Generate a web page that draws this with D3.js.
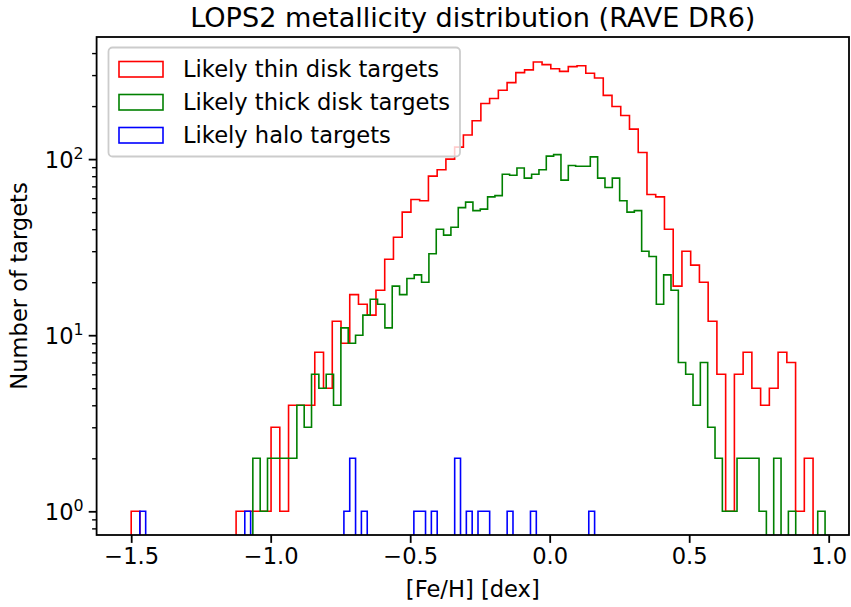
<!DOCTYPE html>
<html>
<head>
<meta charset="utf-8">
<script src="https://cdn.jsdelivr.net/npm/d3@7"></script>
<style>
  html, body { margin: 0; padding: 0; background: #fff; }
  svg { display: block; }
  text { font-family: "DejaVu Sans", sans-serif; fill: #000; }
</style>
</head>
<body>
<svg id="chart" width="851" height="607"></svg>
<script>
// ---------------- data ----------------
const title = "LOPS2 metallicity distribution (RAVE DR6)";
const xLabel = "[Fe/H] [dex]";
const yLabel = "Number of targets";
const seriesNames = ["Likely thin disk targets", "Likely thick disk targets", "Likely halo targets"];
const seriesColors = ["#ff0000", "#008000", "#0000ff"];

// bin ranges [min, max] of [Fe/H] for each series (78 equal bins each)
const thinRange = [-1.500, 0.944];
const thickRange = [-1.064, 0.987];
const haloRange = [-1.469, 0.161];

const thinCounts = [1,0,0,0,0,0,0,0,0,0,0,0,1,1,1,1,3,1,4,4,4,8,5,12,9,17,15,13,18,27,36,50,59,58,80,87,100,117,137,165,207,221,246,272,310,321,356,344,326,315,335,339,307,289,230,199,177,148,109,63,61,40,19,30,25,20,12,6,1,6,8,5,4,5,8,7,1,2];
const thickCounts = [2,1,2,2,2,2,4,3,6,5,6,4,11,9,10,13,16,15,11,19,17,21,22,20,29,40,37,41,53,57,51,52,61,62,82,81,89,78,82,87,104,106,76,92,91,91,103,78,69,78,58,50,51,30,28,15,22,18,7,6,4,7,3,2,1,1,2,2,2,1,0,2,0,1,0,0,0,1];
const haloCounts = [1,0,0,0,0,0,0,0,0,0,0,0,0,0,0,0,0,0,1,0,0,0,0,0,0,0,0,0,0,0,0,0,0,0,0,1,2,0,1,0,0,0,0,0,0,0,0,1,1,0,1,0,0,0,2,0,1,0,1,1,0,0,0,1,0,0,0,1,0,0,0,0,0,0,0,0,0,1];

const xTicks = [-1.5, -1.0, -0.5, 0.0, 0.5, 1.0];
const yTicks = [1, 10, 100];
const yTickExps = ["0", "1", "2"];

// ---------------- layout ----------------
const svg = d3.select("#chart");
const L = 96.6, R = 849, T = 37, B = 535;
const FS = 22.6;

const x = d3.scaleLinear().domain([-1.624, 1.0728]).range([L, R]);
const y = d3.scaleLog().domain([0.7336, 493.6]).range([B, T]);

svg.append("defs").append("clipPath").attr("id", "clip")
  .append("rect").attr("x", L).attr("y", T).attr("width", R - L).attr("height", B - T);

function stepPoints(range, counts) {
  const n = counts.length;
  const w = (range[1] - range[0]) / n;
  const low = B + 20; // zero counts drop below the axes (clipped)
  const pts = [[x(range[0]), low]];
  counts.forEach((c, i) => {
    const yy = c > 0 ? y(c) : low;
    pts.push([x(range[0] + i * w), yy]);
    pts.push([x(range[0] + (i + 1) * w), yy]);
  });
  pts.push([x(range[1]), low]);
  return pts;
}

const line = d3.line();
const series = [
  {range: thinRange, counts: thinCounts, color: seriesColors[0]},
  {range: thickRange, counts: thickCounts, color: seriesColors[1]},
  {range: haloRange, counts: haloCounts, color: seriesColors[2]}
];

const plot = svg.append("g").attr("clip-path", "url(#clip)");
series.forEach(s => {
  plot.append("path")
    .attr("d", line(stepPoints(s.range, s.counts)))
    .attr("fill", "none")
    .attr("stroke", s.color)
    .attr("stroke-width", 1.6)
    .attr("stroke-linejoin", "miter");
});

// ---------------- axes ----------------
const xAxis = d3.axisBottom(x).tickValues(xTicks)
  .tickFormat(d => d3.format(".1f")(d).replace("-", "\u2212"))
  .tickSize(7.9).tickPadding(5);
const gx = svg.append("g").attr("transform", `translate(0,${B})`).call(xAxis);
gx.select(".domain").remove();
gx.selectAll("line").attr("stroke", "#000").attr("stroke-width", 1.8);
gx.selectAll("text").attr("font-size", FS).attr("font-family", "DejaVu Sans");

// y minor ticks
const yMinor = [];
[0.1, 1, 10, 100].forEach(dec => {
  for (let k = 2; k <= 9; k++) {
    const v = dec * k;
    if (v >= y.domain()[0] && v <= y.domain()[1]) yMinor.push(v);
  }
});
const yAxisMinor = d3.axisLeft(y).tickValues(yMinor).tickFormat("").tickSize(4.5);
const gym = svg.append("g").attr("transform", `translate(${L},0)`).call(yAxisMinor);
gym.select(".domain").remove();
gym.selectAll("line").attr("stroke", "#000").attr("stroke-width", 1.4);

const yAxis = d3.axisLeft(y).tickValues(yTicks).tickFormat("").tickSize(7.9);
const gy = svg.append("g").attr("transform", `translate(${L},0)`).call(yAxis);
gy.select(".domain").remove();
gy.selectAll("line").attr("stroke", "#000").attr("stroke-width", 1.8);
gy.selectAll(".tick").each(function(d, i) {
  const t = d3.select(this).append("text")
    .attr("x", -13).attr("y", 8)
    .attr("text-anchor", "end")
    .attr("font-size", FS);
  t.append("tspan").text("10");
  t.append("tspan").attr("font-size", FS * 0.7).attr("dy", -9).text(yTickExps[i]);
});

// frame
svg.append("rect").attr("x", L).attr("y", T).attr("width", R - L).attr("height", B - T)
  .attr("fill", "none").attr("stroke", "#000").attr("stroke-width", 1.8);

// labels
svg.append("text").attr("x", (L + R) / 2).attr("y", 27)
  .attr("text-anchor", "middle").attr("font-size", 27.1).text(title);
svg.append("text").attr("x", (L + R) / 2).attr("y", 597)
  .attr("text-anchor", "middle").attr("font-size", FS).text(xLabel);
svg.append("text").attr("transform", `translate(19,${(T + B) / 2}) rotate(-90)`)
  .attr("text-anchor", "middle").attr("dy", "0.35em").attr("font-size", FS).text(yLabel);

// ---------------- legend ----------------
const lg = svg.append("g");
lg.append("rect").attr("x", 108.5).attr("y", 47.5).attr("width", 351.5).attr("height", 109)
  .attr("rx", 4).attr("fill", "#fff").attr("fill-opacity", 0.8)
  .attr("stroke", "#cccccc").attr("stroke-width", 1.8);
seriesNames.forEach((name, i) => {
  const cy = 69 + i * 33;
  lg.append("rect").attr("x", 119).attr("y", cy - 7.5).attr("width", 44).attr("height", 15.5)
    .attr("fill", "none").attr("stroke", seriesColors[i]).attr("stroke-width", 1.6);
  lg.append("text").attr("x", 183).attr("y", cy).attr("dy", "0.36em")
    .attr("font-size", FS).text(name);
});
</script>
</body>
</html>
